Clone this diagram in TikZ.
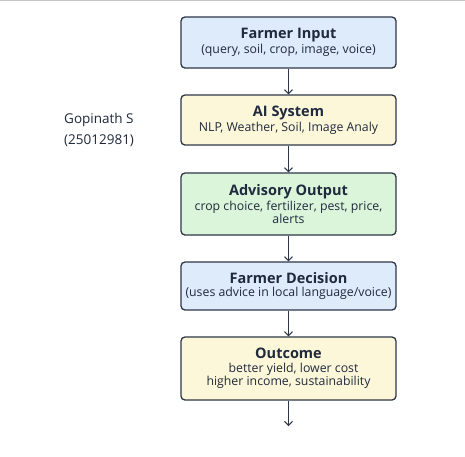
\documentclass[tikz,border=0pt]{standalone}
\usepackage{fontspec}
\setmainfont{Open Sans}
\usetikzlibrary{arrows.meta}
\definecolor{ink}{HTML}{1F2A3C}
\definecolor{edge}{HTML}{2E3748}
\definecolor{fblue}{HTML}{DDEBFB}
\definecolor{fyellow}{HTML}{FDF7DA}
\definecolor{fgreen}{HTML}{DAF5DA}
\tikzset{
  stepbox/.style={draw=edge, line width=1.3pt, rounded corners=4pt, minimum width=215pt, align=center, text=ink, inner sep=0pt},
  flow/.style={draw=edge, line width=1pt, -{Straight Barb[length=4pt,width=8pt]}},
}
\newcommand{\ttlx}[1]{{\fontsize{14.5}{18}\selectfont\bfseries #1}}
\newcommand{\subx}{\fontsize{12.3}{15.5}\selectfont}
\begin{document}
\begin{tikzpicture}[x=1pt,y=-1pt]
\useasboundingbox (0,0) rectangle (465,456);
\fill[white] (0,0) rectangle (465,456);
\draw[gray!45, line width=1.2pt] (0,0.6) -- (465,0.6);
\node[stepbox, fill=fblue, minimum height=51pt] (in) at (288.5,42.5)
  {\ttlx{Farmer Input}\\[1.5pt]\subx (query, soil, crop, image, voice)};
\node[stepbox, fill=fyellow, minimum height=50pt] (ai) at (288.5,120)
  {\ttlx{AI System}\\[1.5pt]\subx NLP, Weather, Soil, Image Analy};
\node[stepbox, fill=fgreen, minimum height=62pt] (adv) at (288.5,204)
  {\ttlx{Advisory Output}\\[1.5pt]\subx crop choice, fertilizer, pest, price,\\\subx alerts};
\node[stepbox, fill=fblue, minimum height=48pt] (dec) at (288.5,286)
  {\ttlx{Farmer Decision}\\[1.5pt]\subx (uses advice in local language/voice)};
\node[stepbox, fill=fyellow, minimum height=63pt] (out) at (288.5,368.5)
  {\ttlx{Outcome}\\[1.5pt]\subx\hspace*{10pt}better yield, lower cost\\\subx higher income, sustainability};
\coordinate (end) at (288.5,426);
\node[anchor=north west, align=left, text=ink, font=\fontsize{13.5}{21}\selectfont, inner sep=0pt] (name) at (64,113) {Gopinath S\\(25012981)};
\draw[flow] (in) -- (ai);
\draw[flow] (ai) -- (adv);
\draw[flow] (adv) -- (dec);
\draw[flow] (dec) -- (out);
\draw[flow] (out) -- (end);
\end{tikzpicture}
\end{document}
